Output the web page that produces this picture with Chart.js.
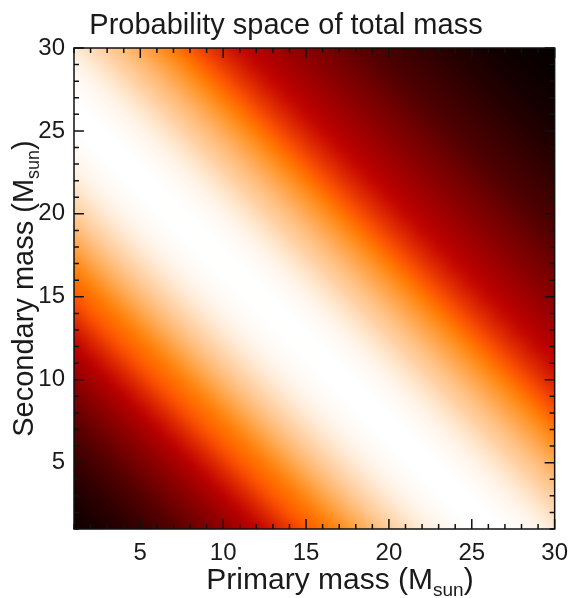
<!DOCTYPE html>
<html lang="en">
<head>
  <meta charset="UTF-8" />
  <title>Probability space of total mass</title>
  <script src="https://cdn.jsdelivr.net/npm/chart.js"></script>
  <style>
    html, body { margin: 0; padding: 0; background: #ffffff; }
    #wrap { width: 578px; height: 598px; }
  </style>
</head>
<body>
  <div id="wrap"><canvas id="massChart" width="578" height="598"></canvas></div>

  <script>
    // grid of component masses (M_sun)
    const primaryMass = [1, 2, 3, 4, 5, 6, 7, 8, 9, 10, 11, 12, 13, 14, 15, 16, 17, 18, 19, 20, 21, 22, 23, 24, 25, 26, 27, 28, 29, 30];
    const secondaryMass = [1, 2, 3, 4, 5, 6, 7, 8, 9, 10, 11, 12, 13, 14, 15, 16, 17, 18, 19, 20, 21, 22, 23, 24, 25, 26, 27, 28, 29, 30];

    // relative probability against total mass
    const totalMass = [2, 3, 4, 5, 6, 7, 8, 9, 10, 11, 12, 13, 14, 15, 16, 17, 18, 19, 20, 21,
                       22, 23, 24, 25, 26, 27, 28, 29, 30, 31, 32, 33, 34, 35, 36, 37, 38, 39, 40, 41,
                       42, 43, 44, 45, 46, 47, 48, 49, 50, 51, 52, 53, 54, 55, 56, 57, 58, 59, 60];
    const probability = [0.04, 0.06, 0.08, 0.11, 0.14, 0.18, 0.22, 0.27, 0.32, 0.37,
                         0.43, 0.49, 0.55, 0.61, 0.67, 0.72, 0.77, 0.82, 0.86, 0.90,
                         0.93, 0.96, 0.98, 0.99, 1.00, 1.00, 1.00, 0.99, 0.98, 0.96,
                         0.93, 0.90, 0.87, 0.83, 0.79, 0.74, 0.67, 0.61, 0.56, 0.51,
                         0.47, 0.43, 0.39, 0.35, 0.32, 0.28, 0.24, 0.21, 0.18, 0.16,
                         0.13, 0.11, 0.09, 0.07, 0.05, 0.04, 0.03, 0.02, 0.01];

    const xTicks = [5, 10, 15, 20, 25, 30];
    const yTicks = [5, 10, 15, 20, 25, 30];

    const FONT = "'Liberation Sans', Arial, Helvetica, sans-serif";
    const INK = '#1a1a1a';

    // red temperature colour table
    function heat(v) {
      const c = t => Math.round(255 * Math.max(0, Math.min(1, t)));
      return [c(1.5 * v), c(2 * v - 1), c(4 * v - 3)];
    }

    // one cell per (primary, secondary) pair
    const cells = [];
    secondaryMass.forEach(m2 => {
      primaryMass.forEach(m1 => {
        cells.push({ x: m1, y: m2, v: probability[totalMass.indexOf(m1 + m2)] });
      });
    });

    // cells go into a small image, then get stretched (smoothed) over the scales
    const heatmapPlugin = {
      id: 'heatmap',
      beforeDatasetsDraw(chart) {
        const { ctx, chartArea: a, scales: { x, y } } = chart;
        const nx = primaryMass.length, ny = secondaryMass.length;
        const off = document.createElement('canvas');
        off.width = nx; off.height = ny;
        const octx = off.getContext('2d');
        const img = octx.createImageData(nx, ny);
        chart.data.datasets[0].data.forEach(d => {
          const i = primaryMass.indexOf(d.x);
          const j = ny - 1 - secondaryMass.indexOf(d.y);
          const [r, g, b] = heat(d.v);
          const k = (j * nx + i) * 4;
          img.data[k] = r; img.data[k + 1] = g; img.data[k + 2] = b; img.data[k + 3] = 255;
        });
        octx.putImageData(img, 0, 0);

        const left = x.getPixelForValue(primaryMass[0] - 0.5);
        const right = x.getPixelForValue(primaryMass[nx - 1] + 0.5);
        const top = y.getPixelForValue(secondaryMass[ny - 1] + 0.5);
        const bottom = y.getPixelForValue(secondaryMass[0] - 0.5);

        ctx.save();
        ctx.beginPath();
        ctx.rect(a.left, a.top, a.right - a.left, a.bottom - a.top);
        ctx.clip();
        ctx.imageSmoothingEnabled = true;
        ctx.imageSmoothingQuality = 'high';
        ctx.drawImage(off, left, top, right - left, bottom - top);
        ctx.restore();
      }
    };

    // IDL-style box with inward ticks on all four sides
    const framePlugin = {
      id: 'frame',
      afterDatasetsDraw(chart) {
        const { ctx, chartArea: a, scales: { x, y } } = chart;
        ctx.save();
        ctx.strokeStyle = '#111';
        ctx.lineWidth = 1.5;
        ctx.beginPath();
        for (let v = Math.ceil(x.min); v <= x.max; v++) {
          const px = x.getPixelForValue(v);
          const len = v % 5 === 0 ? 10 : 5;
          ctx.moveTo(px, a.bottom); ctx.lineTo(px, a.bottom - len);
          ctx.moveTo(px, a.top); ctx.lineTo(px, a.top + len);
        }
        for (let v = Math.ceil(y.min); v <= y.max; v++) {
          const py = y.getPixelForValue(v);
          const len = v % 5 === 0 ? 10 : 5;
          ctx.moveTo(a.left, py); ctx.lineTo(a.left + len, py);
          ctx.moveTo(a.right, py); ctx.lineTo(a.right - len, py);
        }
        ctx.stroke();
        ctx.strokeRect(a.left, a.top, a.right - a.left, a.bottom - a.top);
        ctx.restore();
      }
    };

    // axis titles carry a "sun" subscript, so they are drawn by hand
    function measureSub(ctx, main, sub, tail, size) {
      ctx.font = size + 'px ' + FONT;
      const w1 = ctx.measureText(main).width;
      const w3 = ctx.measureText(tail).width;
      ctx.font = Math.round(size * 0.62) + 'px ' + FONT;
      const w2 = ctx.measureText(sub).width;
      return { w1, w2, w3, total: w1 + w2 + w3 };
    }
    function drawSub(ctx, main, sub, tail, size, x0, base) {
      const m = measureSub(ctx, main, sub, tail, size);
      ctx.font = size + 'px ' + FONT;
      ctx.fillText(main, x0, base);
      ctx.font = Math.round(size * 0.62) + 'px ' + FONT;
      ctx.fillText(sub, x0 + m.w1, base + size * 0.22);
      ctx.font = size + 'px ' + FONT;
      ctx.fillText(tail, x0 + m.w1 + m.w2, base);
    }

    const textPlugin = {
      id: 'texts',
      afterDraw(chart) {
        const { ctx, chartArea: a } = chart;
        ctx.save();
        ctx.fillStyle = INK;
        ctx.textBaseline = 'alphabetic';
        ctx.textAlign = 'center';
        ctx.font = '29px ' + FONT;
        ctx.fillText('Probability space of total mass', 286, 34);

        ctx.textAlign = 'left';
        const mx = measureSub(ctx, 'Primary mass (M', 'sun', ')', 30);
        drawSub(ctx, 'Primary mass (M', 'sun', ')', 30, 340 - mx.total / 2, 589);

        const my = measureSub(ctx, 'Secondary mass (M', 'sun', ')', 29);
        ctx.translate(33, (a.top + a.bottom) / 2);
        ctx.rotate(-Math.PI / 2);
        drawSub(ctx, 'Secondary mass (M', 'sun', ')', 29, -my.total / 2, 0);
        ctx.restore();
      }
    };

    new Chart(document.getElementById('massChart'), {
      type: 'scatter',
      data: {
        datasets: [{ label: 'Probability', data: cells, pointRadius: 0, pointHoverRadius: 0 }]
      },
      options: {
        responsive: false,
        animation: false,
        events: [],
        layout: { padding: { left: 0, top: 48, right: 21, bottom: 0 } },
        plugins: { legend: { display: false }, tooltip: { enabled: false } },
        scales: {
          x: {
            type: 'linear', min: 1, max: 30,
            grid: { display: false, drawTicks: false }, border: { display: false },
            ticks: { font: { family: FONT, size: 24 }, color: INK, padding: 10, maxRotation: 0, autoSkip: false },
            afterBuildTicks: s => { s.ticks = xTicks.map(v => ({ value: v })); },
            afterFit: s => { s.height = 69; }
          },
          y: {
            type: 'linear', min: 1, max: 30,
            grid: { display: false, drawTicks: false }, border: { display: false },
            ticks: { font: { family: FONT, size: 24 }, color: INK, padding: 9, autoSkip: false },
            afterBuildTicks: s => { s.ticks = yTicks.map(v => ({ value: v })); },
            afterFit: s => { s.width = 74; }
          }
        }
      },
      plugins: [heatmapPlugin, framePlugin, textPlugin]
    });
  </script>
</body>
</html>
